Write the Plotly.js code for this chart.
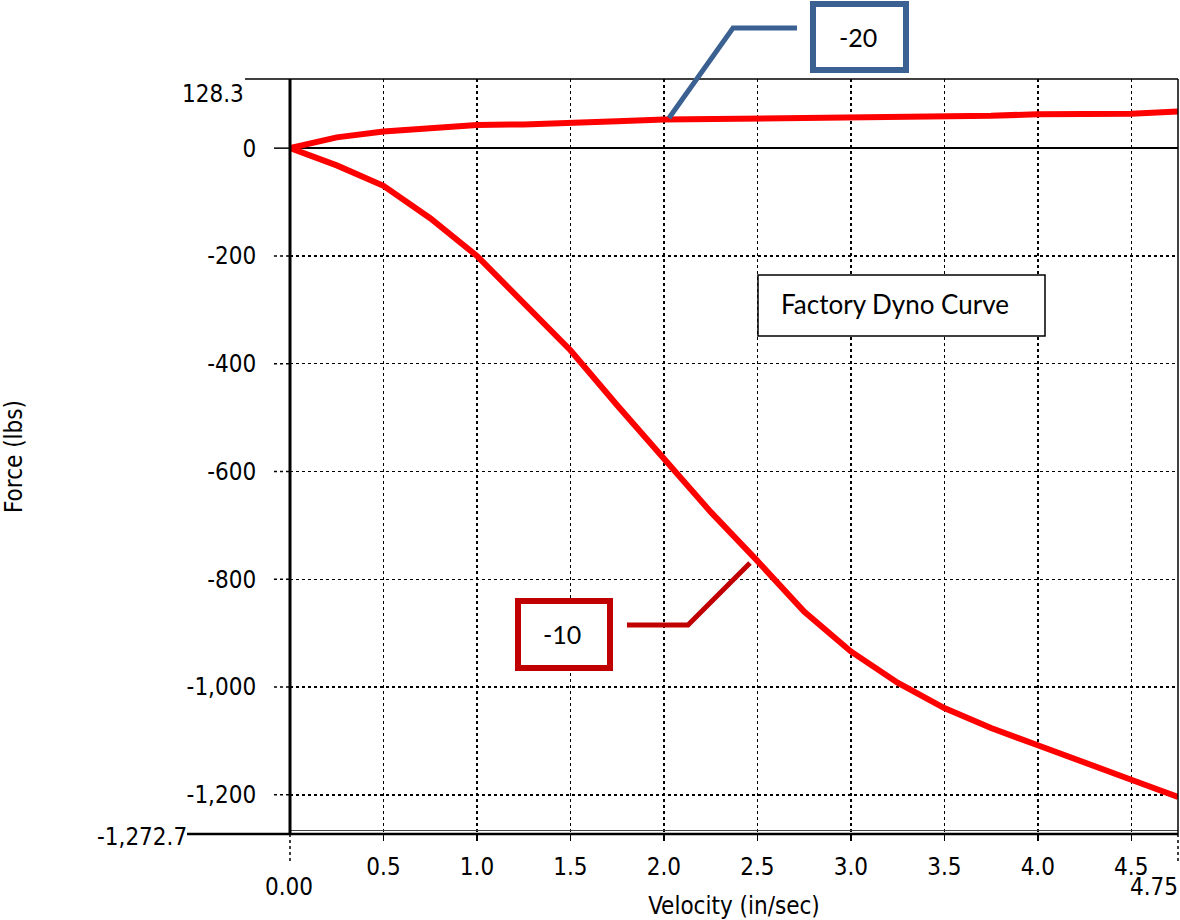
<!DOCTYPE html>
<html>
<head>
<meta charset="utf-8">
<script src="https://cdn.plot.ly/plotly-3.0.1.min.js"></script>
<style>html,body{margin:0;padding:0;background:#fff;}#chart{width:1180px;height:920px;}</style>
</head>
<body>
<div id="chart"></div>
<script>
// ---- data ----
const velocity = [0, 0.25, 0.5, 0.75, 1.0, 1.25, 1.5, 1.75, 2.0, 2.25, 2.5, 2.75, 3.0, 3.25, 3.5, 3.75, 4.0, 4.25, 4.5, 4.75];
const forceMinus10 = [0, -32, -70, -130, -200, -286, -375, -477, -575, -675, -766, -860, -934, -992, -1039, -1076, -1108, -1139, -1172, -1204];
const forceMinus20 = [0, 20, 31, 36, 43, 44, 46, 50, 53, 54, 55, 55, 56, 59, 60, 60, 63, 64, 64, 68];
const xTickVals = [0.5, 1.0, 1.5, 2.0, 2.5, 3.0, 3.5, 4.0, 4.5];
const xTickText = ['0.5', '1.0', '1.5', '2.0', '2.5', '3.0', '3.5', '4.0', '4.5'];
const yTickVals = [-1200, -1000, -800, -600, -400, -200, 0];
const yTickText = ['-1,200', '-1,000', '-800', '-600', '-400', '-200', '0'];
const xRange = [0, 4.75];
const yRange = [-1272.7, 128.3];
const xEndLabels = ['0.00', '4.75'];
const yEndLabels = ['-1,272.7', '128.3'];
const seriesNames = ['-10', '-20'];
const boxLabel = 'Factory Dyno Curve';

// ---- layout helpers (pixel -> paper) ----
const W = 1180, H = 920, ML = 290, MR = 2, MT = 79, MB = 86;
const PW = W - ML - MR, PH = H - MT - MB;
const px = v => (v - ML) / PW;
const py = v => (H - MB - v) / PH;

const tickFont = {family: 'DejaVu Sans Condensed, DejaVu Sans, sans-serif', size: 24, color: '#000'};
const calFont = {family: 'Lato, Open Sans, sans-serif', color: '#000'};

const traces = [
  {x: velocity, y: forceMinus10, name: seriesNames[0], mode: 'lines', line: {color: '#ff0000', width: 6}},
  {x: velocity, y: forceMinus20, name: seriesNames[1], mode: 'lines', line: {color: '#ff0000', width: 6}}
];

const shapes = [];
// dotted y tick extensions (left of axis)
yTickVals.forEach(v => {
  shapes.push({type: 'line', xref: 'paper', yref: 'y', x0: -16 / PW, x1: 0, y0: v, y1: v,
    line: {color: '#000', width: 1.5, dash: v === 0 ? 'solid' : 'dot'}});
});
// dotted extensions below the x axis at the ends
[0, 1].forEach(xp => {
  shapes.push({type: 'line', xref: 'paper', yref: 'paper', x0: xp, x1: xp, y0: 0, y1: -28 / PH,
    line: {color: '#000', width: 1.5, dash: 'dot'}});
});
// frame lines
shapes.push({type: 'line', xref: 'paper', yref: 'paper', x0: px(245), x1: 1, y0: 1, y1: 1, line: {color: '#000', width: 1.5}});
shapes.push({type: 'line', xref: 'paper', yref: 'paper', x0: px(187), x1: 1, y0: 0, y1: 0, line: {color: '#000', width: 2.5}});
shapes.push({type: 'line', xref: 'paper', yref: 'paper', x0: 0, x1: 1, y0: 3.5 / PH, y1: 3.5 / PH, line: {color: '#444', width: 1}});
shapes.push({type: 'line', xref: 'paper', yref: 'paper', x0: 1, x1: 1, y0: 0, y1: 1, line: {color: '#000', width: 1.5}});
shapes.push({type: 'line', xref: 'paper', yref: 'paper', x0: 0, x1: 0, y0: 0, y1: 1, line: {color: '#000', width: 3}});

// callout -20 (blue)
shapes.push({type: 'rect', xref: 'paper', yref: 'paper', x0: px(813), x1: px(906), y0: py(70), y1: py(4),
  line: {color: '#3a6191', width: 6}, fillcolor: '#fff'});
shapes.push({type: 'path', xref: 'paper', yref: 'paper',
  path: `M ${px(669)} ${py(118)} L ${px(733)} ${py(28)} L ${px(797)} ${py(28)}`,
  line: {color: '#3a6191', width: 5}});
// callout -10 (dark red)
shapes.push({type: 'rect', xref: 'paper', yref: 'paper', x0: px(518), x1: px(610), y0: py(668), y1: py(601),
  line: {color: '#c00000', width: 6}, fillcolor: '#fff'});
shapes.push({type: 'path', xref: 'paper', yref: 'paper',
  path: `M ${px(627)} ${py(625)} L ${px(688)} ${py(625)} L ${px(750)} ${py(563)}`,
  line: {color: '#c00000', width: 5}});
// factory dyno curve box
shapes.push({type: 'rect', xref: 'paper', yref: 'paper', x0: px(758), x1: px(1045), y0: py(336), y1: py(275),
  line: {color: '#000', width: 1.5}, fillcolor: '#fff'});

const annotations = [
  {text: yEndLabels[1], xref: 'paper', yref: 'paper', x: px(246), y: py(94), xanchor: 'right', yanchor: 'middle', showarrow: false, font: tickFont},
  {text: yEndLabels[0], xref: 'paper', yref: 'paper', x: px(189), y: py(837), xanchor: 'right', yanchor: 'middle', showarrow: false, font: tickFont},
  {text: xEndLabels[0], xref: 'paper', yref: 'paper', x: px(289), y: py(887), xanchor: 'center', yanchor: 'middle', showarrow: false, font: tickFont},
  {text: xEndLabels[1], xref: 'paper', yref: 'paper', x: px(1180), y: py(887), xanchor: 'right', yanchor: 'middle', showarrow: false, font: tickFont},
  {text: seriesNames[1], xref: 'paper', yref: 'paper', x: px(858), y: py(37), xanchor: 'center', yanchor: 'middle', showarrow: false, font: Object.assign({size: 25}, calFont)},
  {text: seriesNames[0], xref: 'paper', yref: 'paper', x: px(562), y: py(634), xanchor: 'center', yanchor: 'middle', showarrow: false, font: Object.assign({size: 25}, calFont)},
  {text: boxLabel, xref: 'paper', yref: 'paper', x: px(779), y: py(304), xanchor: 'left', yanchor: 'middle', showarrow: false, font: Object.assign({size: 26}, calFont)}
];

const layout = {
  width: W, height: H,
  margin: {l: ML, r: MR, t: MT, b: MB},
  paper_bgcolor: '#fff', plot_bgcolor: '#fff',
  showlegend: false,
  xaxis: {
    range: xRange, tickvals: xTickVals, ticktext: xTickText,
    showgrid: true, gridcolor: '#000', griddash: 'dot', gridwidth: 1.5,
    zeroline: false, showline: false,
    ticks: 'outside', ticklen: 6, tickwidth: 1.5, tickcolor: '#000',
    ticklabelstandoff: 5,
    tickfont: tickFont,
    title: {text: 'Velocity (in/sec)', font: {family: tickFont.family, size: 24, color: '#000'}, standoff: 18}
  },
  yaxis: {
    range: yRange, tickvals: yTickVals, ticktext: yTickText,
    showgrid: true, gridcolor: '#000', griddash: 'dot', gridwidth: 1.5,
    zeroline: true, zerolinecolor: '#000', zerolinewidth: 1.5,
    showline: false,
    ticks: 'outside', ticklen: 16, tickcolor: 'rgba(0,0,0,0)',
    ticklabelstandoff: 12,
    tickfont: tickFont,
    title: {text: 'Force (lbs)', font: {family: tickFont.family, size: 24, color: '#000'}, standoff: 158}
  },
  shapes: shapes,
  annotations: annotations
};

Plotly.newPlot('chart', traces, layout, {displayModeBar: false, staticPlot: true});
</script>
</body>
</html>
